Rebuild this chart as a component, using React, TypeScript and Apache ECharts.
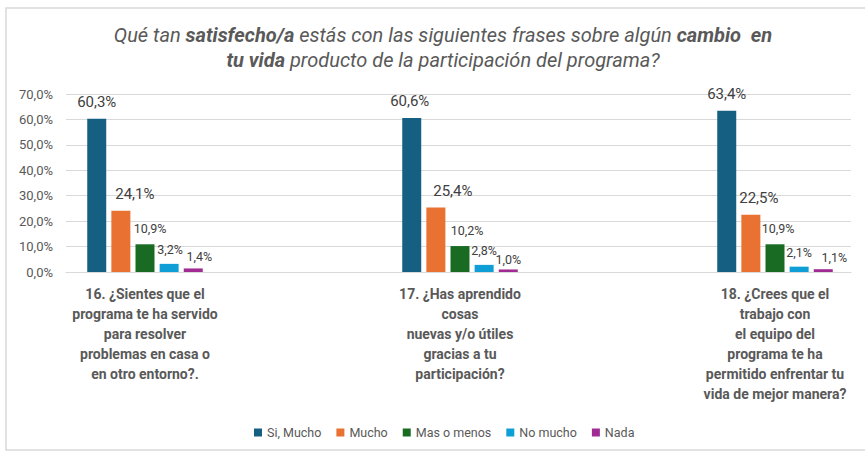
import React, { useEffect, useRef } from "react";
import * as echarts from "echarts";

const categories = [
  "16. ¿Sientes que el\nprograma te ha servido\npara resolver\nproblemas en casa o\nen otro entorno?.",
  "17. ¿Has aprendido\ncosas\nnuevas y/o útiles\ngracias a tu\nparticipación?",
  "18. ¿Crees que el\ntrabajo con\nel equipo del\nprograma te ha\npermitido enfrentar tu\nvida de mejor manera?",
];
const seriesNames = ["Si, Mucho", "Mucho", "Mas o menos", "No mucho", "Nada"];
const siMucho = [60.3, 60.6, 63.4];
const mucho = [24.1, 25.4, 22.5];
const masOMenos = [10.9, 10.2, 10.9];
const noMucho = [3.2, 2.8, 2.1];
const nada = [1.4, 1.0, 1.1];
const yTicks = [0, 10, 20, 30, 40, 50, 60, 70];

const seriesValues = [siMucho, mucho, masOMenos, noMucho, nada];
const colors = ["#156082", "#E97132", "#196B24", "#0F9ED5", "#A02B93"];
const labelSizes = [15, 15, 12.5, 12.5, 12.5];
// label offsets per series per category (style only)
const labelOffsets = [
  [[0, -4], [-2, -4], [0, -4]],
  [[14, -4], [17, -4], [8, -4]],
  [[5, -4], [7, -4], [3, -4]],
  [[1, -3], [0, -3], [0, -3]],
  [[6, 0], [0, 2], [11, 0]],
];

const fmt = (v: number) => `${v.toFixed(1).replace(".", ",")}%`;

export default function App() {
  const ref = useRef<HTMLDivElement>(null);
  useEffect(() => {
    document.body.style.margin = "0";
    const chart = echarts.init(ref.current!, undefined, { renderer: "svg" });
    const font = "Roboto, 'Noto Sans', sans-serif";
    const option: any = {
      animation: false,
      backgroundColor: "#ffffff",
      textStyle: { fontFamily: font },
      title: {
        left: 438,
        top: 17,
        textAlign: "center",
        text:
          "{i|Qué tan }{b|satisfecho/a}{i| estás con las siguientes frases sobre algún }{b|cambio  en}\n{b|tu vida}{i| producto de la participación del programa?}",
        textStyle: {
          fontWeight: "normal",
          rich: {
            i: { fontSize: 20, fontStyle: "italic", fontWeight: "normal", color: "#595959", fontFamily: font, lineHeight: 25 },
            b: { fontSize: 20, fontStyle: "italic", fontWeight: "bold", color: "#595959", fontFamily: font, lineHeight: 25 },
          },
        },
      },
      legend: {
        top: 421,
        left: 249,
        icon: "rect",
        itemWidth: 8,
        itemHeight: 8,
        itemGap: 15,
        textStyle: { fontSize: 12.5, color: "#595959", fontFamily: font },
        data: seriesNames,
      },
      graphic: [
        {
          type: "rect",
          shape: { x: 6, y: 8, width: 900, height: 442 },
          style: { fill: "none", stroke: "#d9d9d9", lineWidth: 1.5 },
          silent: true,
        },
      ],
      grid: [
        { left: 66, right: 14, top: 94, bottom: 179 },
        { left: 145, right: 90, top: 94, bottom: 179 },
      ],
      xAxis: [
        {
          gridIndex: 0,
          type: "category",
          data: ["a"],
          axisLine: { show: true, lineStyle: { color: "#d9d9d9", width: 1 } },
          axisTick: { show: false },
          axisLabel: { show: false },
        },
        {
          gridIndex: 1,
          type: "category",
          boundaryGap: false,
          data: categories,
          axisLine: { show: false },
          axisTick: { show: false },
          axisLabel: {
            interval: 0,
            margin: 12,
            fontSize: 14,
            fontWeight: "bold",
            lineHeight: 20,
            color: "#595959",
            fontFamily: font,
            align: "center",
          },
        },
      ],
      yAxis: [
        {
          gridIndex: 0,
          type: "value",
          min: 0,
          max: 70,
          interval: 10,
          axisLine: { show: false },
          axisTick: { show: false },
          splitLine: { lineStyle: { color: "#d9d9d9", width: 1 } },
          axisLabel: {
            margin: 13,
            fontSize: 13,
            color: "#595959",
            fontFamily: font,
            formatter: (v: number) => (yTicks.includes(v) ? fmt(v) : ""),
          },
        },
        {
          gridIndex: 1,
          type: "value",
          min: 0,
          max: 70,
          interval: 10,
          show: false,
          splitLine: { show: false },
        },
      ],
      series: seriesNames.map((name, si) => ({
        name,
        type: "bar",
        xAxisIndex: 1,
        yAxisIndex: 1,
        barWidth: 19,
        barGap: "27%",
        clip: false,
        itemStyle: { color: colors[si] },
        label: {
          show: true,
          position: "top",
          distance: 5,
          fontSize: labelSizes[si],
          color: "#404040",
          fontFamily: font,
          formatter: (p: any) => fmt(p.value),
        },
        data: seriesValues[si].map((v, ci) => ({
          value: v,
          label: { offset: labelOffsets[si][ci] },
        })),
      })),
    };
    chart.setOption(option);
    return () => chart.dispose();
  }, []);
  return (
    <div
      ref={ref}
      style={{ position: "absolute", left: 0, top: 0, width: 865, height: 451 }}
    />
  );
}
